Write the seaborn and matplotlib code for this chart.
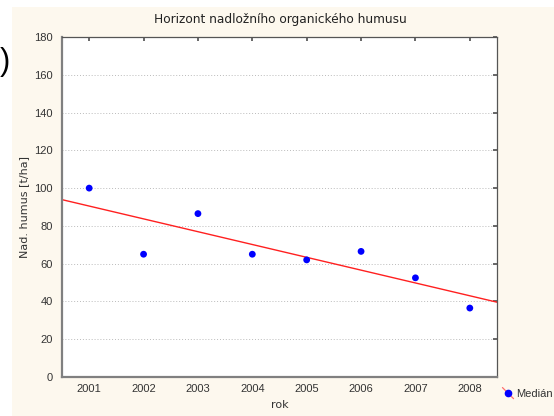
import matplotlib
matplotlib.use("Agg")
import matplotlib.pyplot as plt
from matplotlib.lines import Line2D
from matplotlib.patches import Rectangle
from matplotlib.legend_handler import HandlerBase
import seaborn as sns
import pandas as pd
import numpy as np

years = [2001, 2002, 2003, 2004, 2005, 2006, 2007, 2008]
median_humus = [100, 65, 86.5, 65, 62, 66.5, 52.5, 36.5]
y_ticks = [0, 20, 40, 60, 80, 100, 120, 140, 160, 180]

title = "Horizont nadložního organického humusu"
x_label = "rok"
y_label = "Nad. humus [t/ha]"
legend_label = "Medián"

df = pd.DataFrame({"rok": years, "humus": median_humus})

sns.set_theme(style="white")
plt.rcParams['font.family'] = ['Liberation Sans', 'DejaVu Sans']


class DiagHandler(HandlerBase):
    def create_artists(self, legend, orig_handle, xdescent, ydescent,
                       width, height, fontsize, trans):
        cx = width / 2 - xdescent
        cy = height / 2 - ydescent
        d = 4.0
        line = Line2D([cx - d, cx + d], [cy + d, cy - d], color="#FF7070", lw=0.9,
                      transform=trans)
        dot = Line2D([cx], [cy], color="#0000FF", marker="o", ls="none",
                     markersize=4.5, transform=trans)
        return [line, dot]


fig = plt.figure(figsize=(5.54, 4.16), dpi=100)
fig.patch.set_facecolor("white")
bg = Rectangle((12 / 554, 0), 1 - 12 / 554, 1 - 7 / 416, transform=fig.transFigure,
               facecolor="#FDF8EE", edgecolor="none", zorder=-10)
fig.patches.append(bg)
fig.text(0.0, 1 - 62 / 416, ")", fontsize=22, color="black", va="center", ha="left")

ax = fig.add_axes([62 / 554, 1 - 377 / 416, (497 - 62) / 554, (377 - 37) / 416])
ax.set_facecolor("white")
ax.set_xlim(2000.5, 2008.5)
ax.set_ylim(0, 180)

for yv in y_ticks[1:-1]:
    ax.axhline(yv, color="#BBBBBB", lw=0.7, ls=(0, (1, 2)), zorder=0)

sns.regplot(data=df, x="rok", y="humus", ax=ax, ci=None, truncate=False,
            scatter=False, line_kws=dict(color="#FF2020", lw=1.0))
sns.scatterplot(data=df, x="rok", y="humus", ax=ax, color="#0000FF", s=24,
                edgecolor="none", zorder=5)

ax.set_xticks(years)
ax.set_xticklabels([str(y) for y in years])
ax.set_yticks(y_ticks)
ax.tick_params(axis="both", labelsize=8, colors="#333333")
ax.tick_params(axis="y", direction="out", length=3, width=0.8, color="#555555")
ax.tick_params(axis="x", direction="in", length=3, width=0.8, color="#555555", pad=5)

sec_x = ax.secondary_xaxis("top")
sec_x.set_xticks(years)
sec_x.tick_params(direction="in", length=3, labeltop=False, color="#555555")
sec_y = ax.secondary_yaxis("right")
sec_y.set_yticks(y_ticks)
sec_y.tick_params(direction="in", length=3, labelright=False, color="#555555")
for s in sec_x.spines.values():
    s.set_visible(False)
for s in sec_y.spines.values():
    s.set_visible(False)

for side in ["left", "bottom"]:
    ax.spines[side].set_color("#808080")
    ax.spines[side].set_linewidth(1.6)
for side in ["top", "right"]:
    ax.spines[side].set_color("#555555")
    ax.spines[side].set_linewidth(0.9)

ax.set_xlabel(x_label, fontsize=8, color="#333333", labelpad=4, family="DejaVu Sans")
ax.set_ylabel(y_label, fontsize=8, color="#333333", labelpad=4, family="DejaVu Sans")
fig.text(280 / 554, 1 - 19 / 416, title, fontsize=8.7, color="#222222",
         ha="center", va="center", family="DejaVu Sans")

handle = Line2D([0], [0])
leg = fig.legend([handle], [legend_label], loc="center left",
                 handler_map={Line2D: DiagHandler()},
                 bbox_to_anchor=(503 / 554, 1 - 394 / 416), frameon=False,
                 prop={"size": 8, "family": "Liberation Sans"},
                 handlelength=0.9, handletextpad=0.3, borderaxespad=0, borderpad=0)
for t in leg.get_texts():
    t.set_color("#333333")

fig.savefig("out.png", dpi=100, facecolor=fig.get_facecolor())
